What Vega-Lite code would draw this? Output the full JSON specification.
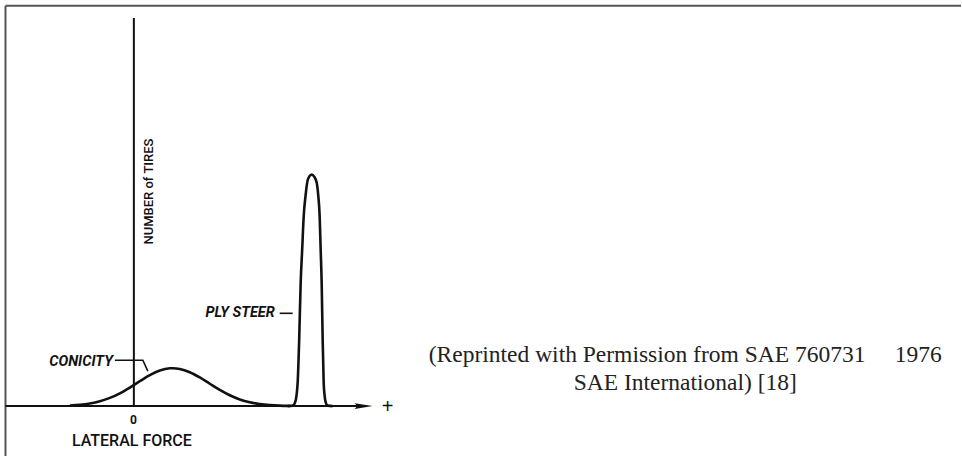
{
  "$schema": "https://vega.github.io/schema/vega-lite/v6.json",
  "width": 962,
  "height": 457,
  "padding": 0,
  "autosize": {"type": "fit", "contains": "padding"},
  "background": "white",
  "config": {"view": {"stroke": null}},
  "datasets": {
    "frame": [
      {"part": "top", "x1": -12.85, "x2": 82.8, "y1": 40.13, "y2": 40.13},
      {"part": "left", "x1": -12.85, "x2": -12.85, "y1": -5, "y2": 40.13}
    ],
    "axes": [
      {"part": "tires", "x1": 0, "x2": 0, "y1": 0, "y2": 38.9},
      {"part": "force", "x1": -12.85, "x2": 22.8, "y1": 0, "y2": 0}
    ],
    "arrow": [{"force": 23.0, "tires": 0}],
    "leaders": [
      {"leader": "conicity", "seq": 1, "force": -1.9, "tires": 4.6},
      {"leader": "conicity", "seq": 2, "force": 0.9, "tires": 4.6},
      {"leader": "conicity", "seq": 3, "force": 1.4, "tires": 3.5},
      {"leader": "plysteer", "seq": 1, "force": 14.6, "tires": 9.3},
      {"leader": "plysteer", "seq": 2, "force": 15.9, "tires": 9.3}
    ],
    "curves": [
      {"series": "Conicity", "force": -6.4, "tires": 0.06},
      {"series": "Conicity", "force": -5.4, "tires": 0.135},
      {"series": "Conicity", "force": -4.4, "tires": 0.266},
      {"series": "Conicity", "force": -3.4, "tires": 0.486},
      {"series": "Conicity", "force": -2.4, "tires": 0.822},
      {"series": "Conicity", "force": -1.4, "tires": 1.285},
      {"series": "Conicity", "force": -0.4, "tires": 1.862},
      {"series": "Conicity", "force": 0.6, "tires": 2.497},
      {"series": "Conicity", "force": 1.6, "tires": 3.098},
      {"series": "Conicity", "force": 2.6, "tires": 3.56},
      {"series": "Conicity", "force": 3.6, "tires": 3.787},
      {"series": "Conicity", "force": 3.9, "tires": 3.8},
      {"series": "Conicity", "force": 4.6, "tires": 3.729},
      {"series": "Conicity", "force": 5.6, "tires": 3.398},
      {"series": "Conicity", "force": 6.6, "tires": 2.869},
      {"series": "Conicity", "force": 7.6, "tires": 2.241},
      {"series": "Conicity", "force": 8.6, "tires": 1.621},
      {"series": "Conicity", "force": 9.6, "tires": 1.085},
      {"series": "Conicity", "force": 10.6, "tires": 0.672},
      {"series": "Conicity", "force": 11.6, "tires": 0.386},
      {"series": "Conicity", "force": 12.6, "tires": 0.205},
      {"series": "Conicity", "force": 13.6, "tires": 0.101},
      {"series": "Conicity", "force": 14.6, "tires": 0.046},
      {"series": "Conicity", "force": 15.6, "tires": 0.02},
      {"series": "Ply steer", "force": 15.4, "tires": 0},
      {"series": "Ply steer", "force": 15.9, "tires": 0.05},
      {"series": "Ply steer", "force": 16.15, "tires": 0.4},
      {"series": "Ply steer", "force": 16.3, "tires": 1.2},
      {"series": "Ply steer", "force": 16.4, "tires": 2.4},
      {"series": "Ply steer", "force": 16.55, "tires": 6.7},
      {"series": "Ply steer", "force": 16.7, "tires": 12.4},
      {"series": "Ply steer", "force": 16.85, "tires": 15.7},
      {"series": "Ply steer", "force": 17.0, "tires": 19.0},
      {"series": "Ply steer", "force": 17.2, "tires": 21.2},
      {"series": "Ply steer", "force": 17.35, "tires": 22.4},
      {"series": "Ply steer", "force": 17.55, "tires": 23.0},
      {"series": "Ply steer", "force": 17.8, "tires": 23.2},
      {"series": "Ply steer", "force": 18.05, "tires": 23.0},
      {"series": "Ply steer", "force": 18.3, "tires": 22.4},
      {"series": "Ply steer", "force": 18.45, "tires": 21.2},
      {"series": "Ply steer", "force": 18.6, "tires": 19.0},
      {"series": "Ply steer", "force": 18.7, "tires": 15.7},
      {"series": "Ply steer", "force": 18.8, "tires": 12.4},
      {"series": "Ply steer", "force": 18.9, "tires": 6.7},
      {"series": "Ply steer", "force": 19.0, "tires": 2.4},
      {"series": "Ply steer", "force": 19.08, "tires": 1.2},
      {"series": "Ply steer", "force": 19.2, "tires": 0.4},
      {"series": "Ply steer", "force": 19.4, "tires": 0.05},
      {"series": "Ply steer", "force": 19.9, "tires": 0}
    ],
    "seriesLabels": [
      {"label": "CONICITY", "force": -2.1, "tires": 4.45},
      {"label": "PLY STEER", "force": 14.1, "tires": 9.3}
    ],
    "zeroLabel": [{"label": "0", "force": -0.05, "tires": -1.4}],
    "xTitle": [{"label": "LATERAL FORCE", "force": -0.2, "tires": -3.5}],
    "yTitle": [{"label": "NUMBER of TIRES", "force": 1.5, "tires": 21.5}],
    "plus": [{"label": "+", "force": 25.4, "tires": -0.1}],
    "credit": [
      {"label": "(Reprinted with Permission from SAE 760731\u00a0\u00a0\u00a0\u00a0\u00a01976", "force": 55.2, "tires": 4.4},
      {"label": "SAE International) [18]", "force": 55.2, "tires": 1.6}
    ]
  },
  "encoding": {
    "x": {"type": "quantitative", "scale": {"domain": [-13.4, 82.8], "nice": false, "zero": false}, "axis": null},
    "y": {"type": "quantitative", "scale": {"domain": [-5, 40.7], "nice": false, "zero": false}, "axis": null}
  },
  "layer": [
    {
      "data": {"name": "frame"},
      "mark": {"type": "rule", "color": "#555555", "strokeWidth": 2},
      "encoding": {"x": {"field": "x1", "type": "quantitative"}, "x2": {"field": "x2"}, "y": {"field": "y1", "type": "quantitative"}, "y2": {"field": "y2"}}
    },
    {
      "data": {"name": "axes"},
      "mark": {"type": "rule", "color": "#111111", "strokeWidth": 2},
      "encoding": {"x": {"field": "x1", "type": "quantitative"}, "x2": {"field": "x2"}, "y": {"field": "y1", "type": "quantitative"}, "y2": {"field": "y2"}}
    },
    {
      "data": {"name": "arrow"},
      "mark": {"type": "point", "shape": "M1,0L-1,-0.33L-0.7,0L-1,0.33Z", "size": 324, "filled": true, "color": "#111111", "opacity": 1, "strokeWidth": 0},
      "encoding": {"x": {"field": "force", "type": "quantitative"}, "y": {"field": "tires", "type": "quantitative"}}
    },
    {
      "data": {"name": "leaders"},
      "mark": {"type": "line", "color": "#111111", "strokeWidth": 1.6},
      "encoding": {"x": {"field": "force", "type": "quantitative"}, "y": {"field": "tires", "type": "quantitative"}, "detail": {"field": "leader"}, "order": {"field": "seq", "type": "quantitative"}}
    },
    {
      "data": {"name": "curves"},
      "mark": {"type": "line", "color": "#111111", "strokeWidth": 2.6, "interpolate": "monotone"},
      "encoding": {"x": {"field": "force", "type": "quantitative"}, "y": {"field": "tires", "type": "quantitative"}, "detail": {"field": "series"}}
    },
    {
      "data": {"name": "seriesLabels"},
      "mark": {"type": "text", "font": "Roboto", "fontSize": 14.5, "fontStyle": "italic", "fontWeight": "bold", "align": "right", "baseline": "middle", "color": "#111111"},
      "encoding": {"x": {"field": "force", "type": "quantitative"}, "y": {"field": "tires", "type": "quantitative"}, "text": {"field": "label"}}
    },
    {
      "data": {"name": "zeroLabel"},
      "mark": {"type": "text", "font": "Roboto", "fontSize": 12, "fontWeight": "bold", "align": "center", "baseline": "middle", "color": "#111111"},
      "encoding": {"x": {"field": "force", "type": "quantitative"}, "y": {"field": "tires", "type": "quantitative"}, "text": {"field": "label"}}
    },
    {
      "data": {"name": "xTitle"},
      "mark": {"type": "text", "font": "Roboto", "fontSize": 16, "fontWeight": 500, "align": "center", "baseline": "middle", "color": "#111111"},
      "encoding": {"x": {"field": "force", "type": "quantitative"}, "y": {"field": "tires", "type": "quantitative"}, "text": {"field": "label"}}
    },
    {
      "data": {"name": "yTitle"},
      "mark": {"type": "text", "font": "Roboto", "fontSize": 13, "fontWeight": 500, "angle": 270, "align": "center", "baseline": "middle", "color": "#111111"},
      "encoding": {"x": {"field": "force", "type": "quantitative"}, "y": {"field": "tires", "type": "quantitative"}, "text": {"field": "label"}}
    },
    {
      "data": {"name": "plus"},
      "mark": {"type": "text", "font": "Liberation Sans", "fontSize": 20, "align": "center", "baseline": "middle", "color": "#111111"},
      "encoding": {"x": {"field": "force", "type": "quantitative"}, "y": {"field": "tires", "type": "quantitative"}, "text": {"field": "label"}}
    },
    {
      "data": {"name": "credit"},
      "mark": {"type": "text", "font": "Liberation Serif", "fontSize": 23.5, "align": "center", "baseline": "alphabetic", "color": "#222222"},
      "encoding": {"x": {"field": "force", "type": "quantitative"}, "y": {"field": "tires", "type": "quantitative"}, "text": {"field": "label"}}
    }
  ]
}
